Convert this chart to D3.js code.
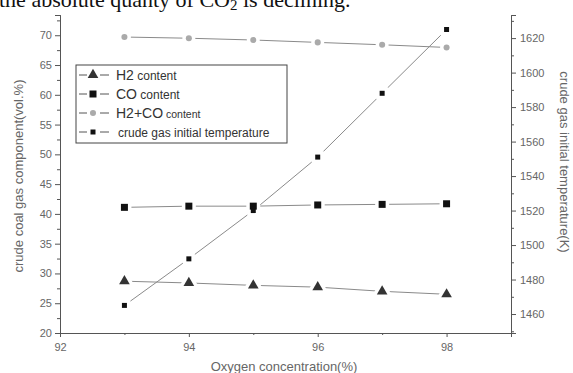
<!DOCTYPE html>
<html>
<head>
<meta charset="utf-8">
<script src="https://cdn.jsdelivr.net/npm/d3@7"></script>
<style>
    body { margin: 0; background: #fff; }
    svg { display: block; }
    .tick text { font-family: "Liberation Sans", Arial, sans-serif; fill: #666; }
</style>
</head>
<body>
<div id="chart"></div>
<script>
// values
const oxygen = [93, 94, 95, 96, 97, 98];
const h2Content = [28.7, 28.4, 28.0, 27.7, 27.0, 26.5];
const coContent = [41.1, 41.3, 41.3, 41.5, 41.6, 41.7];
const h2coContent = [69.7, 69.5, 69.2, 68.8, 68.4, 67.95];
const gasTemperature = [1465, 1492, 1520, 1551, 1588, 1625];

const xTicks = [92, 94, 96, 98];
const leftTicks = [20, 25, 30, 35, 40, 45, 50, 55, 60, 65, 70];
const rightTicks = [1460, 1480, 1500, 1520, 1540, 1560, 1580, 1600, 1620];

const WIDTH = 573, HEIGHT = 373;
const PLOT = { left: 60, right: 511, top: 15, bottom: 333 };

let svg = d3.select("#chart").append("svg")
    .attr("width", WIDTH)
    .attr("height", HEIGHT);

let x = d3.scaleLinear().domain([92, 99]).range([PLOT.left, PLOT.right]);
let yLeft = d3.scaleLinear().domain([20, 73.4]).range([PLOT.bottom, PLOT.top]);
let yRight = d3.scaleLinear().domain([1449, 1633.4]).range([PLOT.bottom, PLOT.top]);

// caption text cut off at the top of the scan
let caption = svg.append("text")
    .attr("x", -1).attr("y", 7)
    .attr("font-family", "Liberation Serif, Times New Roman, serif")
    .attr("font-size", 22)
    .attr("fill", "#111");
caption.append("tspan").text("the absolute quanty of CO");
caption.append("tspan").attr("font-size", 15).attr("dy", 3).text("2");
caption.append("tspan").attr("dy", -3).text(" is declining.");

// axes
const axisColor = "#555";
function styleAxis(g) {
    g.select(".domain").attr("stroke", axisColor);
    g.selectAll(".tick line").attr("stroke", axisColor);
    g.selectAll(".tick text").attr("font-size", 11);
}

// minor ticks first so major ticks sit on top
svg.append("g")
    .attr("transform", "translate(0," + PLOT.bottom + ")")
    .call(d3.axisBottom(x).tickValues([93, 95, 97, 99]).tickSize(2).tickFormat(""))
    .call(styleAxis);
svg.append("g")
    .attr("transform", "translate(0," + PLOT.bottom + ")")
    .call(d3.axisBottom(x).tickValues(xTicks).tickSize(4).tickPadding(6).tickFormat(d3.format("d")))
    .call(styleAxis);

svg.append("g")
    .attr("transform", "translate(" + PLOT.left + ",0)")
    .call(d3.axisLeft(yLeft).tickValues(d3.range(22.5, 73.4, 5)).tickSize(3).tickFormat(""))
    .call(styleAxis);
svg.append("g")
    .attr("transform", "translate(" + PLOT.left + ",0)")
    .call(d3.axisLeft(yLeft).tickValues(leftTicks).tickSize(5).tickPadding(3))
    .call(styleAxis);

svg.append("g")
    .attr("transform", "translate(" + PLOT.right + ",0)")
    .call(d3.axisRight(yRight).tickValues(d3.range(1450, 1634, 20)).tickSize(3).tickFormat(""))
    .call(styleAxis);
svg.append("g")
    .attr("transform", "translate(" + PLOT.right + ",0)")
    .call(d3.axisRight(yRight).tickValues(rightTicks).tickSize(5).tickPadding(4).tickFormat(d3.format("d")))
    .call(styleAxis);

// axis titles
const titleFont = "Liberation Sans, Arial, sans-serif";
svg.append("text")
    .attr("transform", "translate(23,176) rotate(-90)")
    .attr("text-anchor", "middle")
    .attr("font-family", titleFont).attr("font-size", 13).attr("fill", "#666")
    .text("crude coal gas component(vol.%)");
svg.append("text")
    .attr("transform", "translate(560,162) rotate(90)")
    .attr("text-anchor", "middle")
    .attr("font-family", titleFont).attr("font-size", 13).attr("fill", "#666")
    .text("crude gas initial temperature(K)");
svg.append("text")
    .attr("x", 284).attr("y", 371)
    .attr("text-anchor", "middle")
    .attr("font-family", titleFont).attr("font-size", 13).attr("fill", "#666")
    .text("Oxygen concentration(%)");

// series
const series = [
    { name: "H2", values: h2Content, y: yLeft, marker: "triangle", size: 7, fill: "#333" },
    { name: "CO", values: coContent, y: yLeft, marker: "square", size: 7, fill: "#111" },
    { name: "H2+CO", values: h2coContent, y: yLeft, marker: "circle", size: 6, fill: "#aaa" },
    { name: "temp", values: gasTemperature, y: yRight, marker: "square", size: 5, fill: "#111" }
];

function symbolFor(s) {
    let type = s.marker === "triangle" ? d3.symbolTriangle
        : s.marker === "circle" ? d3.symbolCircle : d3.symbolSquare;
    return d3.symbol().type(type).size(s.size * s.size * (s.marker === "circle" ? 0.8 : 1))();
}

let line = d3.line();
series.forEach(function (s) {
    let pts = oxygen.map(function (o, i) { return [x(o), s.y(s.values[i])]; });
    svg.append("path")
        .attr("d", line(pts))
        .attr("fill", "none")
        .attr("stroke", "#8a8a8a")
        .attr("stroke-width", 1);
});
// white halos give the gap between line and marker
series.forEach(function (s) {
    let pts = oxygen.map(function (o, i) { return [x(o), s.y(s.values[i])]; });
    svg.append("g").selectAll("path")
        .data(pts)
        .enter().append("path")
        .attr("transform", function (d) { return "translate(" + d[0] + "," + d[1] + ")"; })
        .attr("d", symbolFor(s))
        .attr("fill", "#fff")
        .attr("stroke", "#fff")
        .attr("stroke-width", 7);
});
series.forEach(function (s) {
    let pts = oxygen.map(function (o, i) { return [x(o), s.y(s.values[i])]; });
    svg.append("g").selectAll("path")
        .data(pts)
        .enter().append("path")
        .attr("transform", function (d) { return "translate(" + d[0] + "," + d[1] + ")"; })
        .attr("d", symbolFor(s))
        .attr("fill", s.fill);
});

// legend
const legendRows = [
    { big: "H2", small: " content", s: series[0] },
    { big: "CO", small: " content", s: series[1] },
    { big: "H2+CO", small: " content", s: series[2] },
    { big: "", small: "crude gas initial temperature", s: series[3] }
];
let legend = svg.append("g");
legend.append("rect")
    .attr("x", 76).attr("y", 65)
    .attr("width", 211).attr("height", 78)
    .attr("fill", "#fff")
    .attr("stroke", "#444").attr("stroke-width", 1);
legendRows.forEach(function (r, i) {
    let cy = 75 + i * 19;
    legend.append("line")
        .attr("x1", 79).attr("x2", 109)
        .attr("y1", cy).attr("y2", cy)
        .attr("stroke", "#555");
    legend.append("rect")
        .attr("x", 87).attr("y", cy - 5).attr("width", 13).attr("height", 10)
        .attr("fill", "#fff");
    legend.append("path")
        .attr("transform", "translate(93," + cy + ")")
        .attr("d", symbolFor(r.s))
        .attr("fill", r.s.fill);
    let t = legend.append("text")
        .attr("x", i === 3 ? 118 : 116).attr("y", cy + 4.5)
        .attr("font-family", titleFont).attr("fill", "#333");
    if (r.big) t.append("tspan").attr("font-size", 14).text(r.big);
    t.append("tspan").attr("font-size", i === 2 ? 10.5 : 12).text(r.small);
});
</script>
</body>
</html>
